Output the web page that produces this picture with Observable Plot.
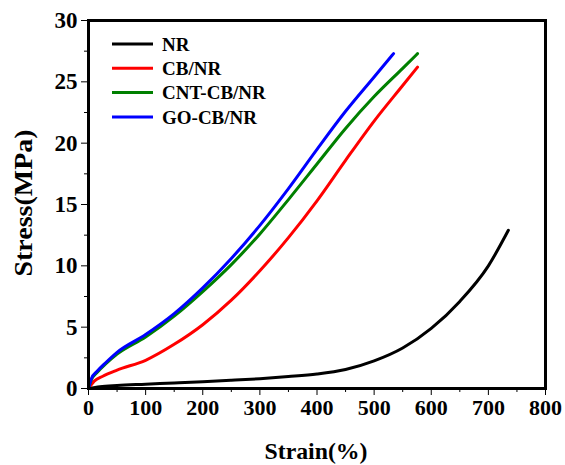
<!DOCTYPE html>
<html>
<head>
<meta charset="utf-8">
<script src="https://cdn.jsdelivr.net/npm/d3@7"></script>
<script src="https://cdn.jsdelivr.net/npm/@observablehq/plot@0.6"></script>
<style>
  html, body { margin: 0; padding: 0; background: #fff; }
  #chart { position: relative; width: 565px; height: 465px; }
</style>
</head>
<body>
<div id="chart"></div>
<script>
// Series names and colours
const seriesNames = ["NR", "CB/NR", "CNT-CB/NR", "GO-CB/NR"];
const seriesColors = ["#000000", "#ff0000", "#008000", "#0000ff"];

// Strain (%) / Stress (MPa)
const nrStrain = [0, 20, 50, 100, 150, 200, 250, 300, 350, 400, 450, 500, 550, 600, 650, 700, 735];
const nrStress = [0, 0.15, 0.25, 0.35, 0.45, 0.55, 0.67, 0.8, 0.97, 1.18, 1.55, 2.25, 3.3, 4.9, 7.1, 10.0, 12.9];

const cbStrain = [0, 10, 25, 50, 100, 150, 200, 250, 300, 350, 400, 450, 500, 550, 576];
const cbStress = [0, 0.6, 1.0, 1.5, 2.3, 3.6, 5.2, 7.2, 9.6, 12.3, 15.3, 18.6, 21.8, 24.7, 26.2];

const cntStrain = [0, 5, 15, 30, 50, 100, 150, 200, 250, 300, 350, 400, 450, 500, 550, 576];
const cntStress = [0, 0.7, 1.3, 2.0, 2.8, 4.2, 5.9, 7.9, 10.1, 12.6, 15.4, 18.3, 21.2, 23.8, 26.1, 27.3];

const goStrain = [0, 5, 15, 30, 50, 100, 150, 200, 250, 300, 350, 400, 450, 500, 534];
const goStress = [0, 0.8, 1.4, 2.1, 2.95, 4.4, 6.1, 8.2, 10.6, 13.3, 16.3, 19.5, 22.6, 25.4, 27.3];

// Axis ticks
const xTicks = [0, 100, 200, 300, 400, 500, 600, 700, 800];
const yTicks = [0, 5, 10, 15, 20, 25, 30];
const xMinorTicks = [50, 150, 250, 350, 450, 550, 650, 750];
const yMinorTicks = [2.5, 7.5, 12.5, 17.5, 22.5, 27.5];

const strains = [nrStrain, cbStrain, cntStrain, goStrain];
const stresses = [nrStress, cbStress, cntStress, goStress];
const data = [];
seriesNames.forEach((name, i) => {
  strains[i].forEach((x, j) => data.push({series: name, strain: x, stress: stresses[i][j]}));
});

const font = "'Liberation Serif', 'Times New Roman', serif";

const plot = Plot.plot({
  width: 565,
  height: 465,
  marginLeft: 88,
  marginRight: 20,
  marginTop: 20,
  marginBottom: 77,
  style: {fontFamily: font, fontWeight: "bold", fontSize: "22px", color: "#000", background: "transparent", overflow: "visible"},
  x: {domain: [0, 800], ticks: xTicks, label: null},
  y: {domain: [0, 30], ticks: yTicks, label: null},
  color: {domain: seriesNames, range: seriesColors},
  marks: [
    Plot.line(data, {x: "strain", y: "stress", z: "series", stroke: "series", strokeWidth: 3, curve: "monotone-x"}),
    Plot.frame({stroke: "#000", strokeWidth: 3}),
    Plot.axisX({ticks: xTicks, tickSize: 7, tickPadding: 4, tickWidth: 2.5, fontSize: 22, fontWeight: "bold", stroke: "#000"}),
    Plot.axisX({ticks: xMinorTicks, tickSize: 4, tickWidth: 2.5, tickFormat: () => "", stroke: "#000"}),
    Plot.axisY({ticks: yTicks, tickSize: 7, tickPadding: 4, tickWidth: 2.5, fontSize: 23, fontWeight: "bold", stroke: "#000"}),
    Plot.axisY({ticks: yMinorTicks, tickSize: 4, tickWidth: 2.5, tickFormat: () => "", stroke: "#000"})
  ]
});

const svg = d3.select(plot);
// Axis titles
svg.append("text")
  .attr("x", 316).attr("y", 459)
  .attr("text-anchor", "middle")
  .attr("textLength", 103).attr("lengthAdjust", "spacingAndGlyphs")
  .style("font-family", font).style("font-weight", "bold").style("font-size", "24px")
  .text("Strain(%)");
svg.append("text")
  .attr("transform", "translate(32,203) rotate(-90)")
  .attr("text-anchor", "middle")
  .attr("textLength", 147).attr("lengthAdjust", "spacingAndGlyphs")
  .style("font-family", font).style("font-weight", "bold").style("font-size", "25px")
  .text("Stress(MPa)");

// Legend
const lg = svg.append("g").attr("text-anchor", "start");
seriesNames.forEach((name, i) => {
  const y = 44 + i * 24.3;
  lg.append("line").attr("x1", 112).attr("x2", 153).attr("y1", y).attr("y2", y)
    .attr("stroke", seriesColors[i]).attr("stroke-width", 3);
  lg.append("text").attr("x", 162).attr("y", y).attr("dy", "0.35em")
    .attr("text-anchor", "start")
    .style("font-family", font).style("font-weight", "bold").style("font-size", "19px")
    .text(name);
});

document.getElementById("chart").appendChild(plot);
</script>
</body>
</html>
